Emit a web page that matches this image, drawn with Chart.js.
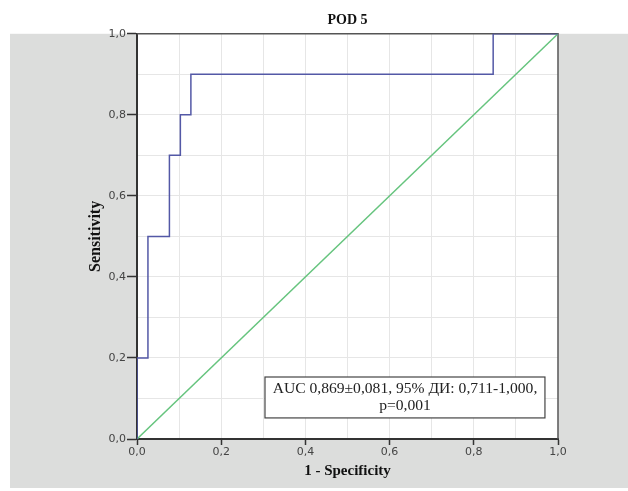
<!DOCTYPE html>
<html>
<head>
<meta charset="utf-8">
<title>POD 5</title>
<script src="https://cdn.jsdelivr.net/npm/chart.js@4.4.7/dist/chart.umd.min.js"></script>
<style>
    html, body { margin: 0; padding: 0; background: #ffffff; }
    #wrap { width: 628px; height: 491px; }
</style>
</head>
<body>
<div id="wrap"><canvas id="roc"></canvas></div>
<script>

// ROC curve points (1 - specificity, sensitivity)
const rocX = [0, 0, 0.026, 0.026, 0.077, 0.077, 0.103, 0.103, 0.128, 0.128, 0.846, 0.846, 1];
const rocY = [0, 0.2, 0.2, 0.5, 0.5, 0.7, 0.7, 0.8, 0.8, 0.9, 0.9, 1, 1];

// Reference line
const refX = [0, 1];
const refY = [0, 1];

const chartTitle = 'POD 5';
const xTitle = '1 - Specificity';
const yTitle = 'Sensitivity';
const noteLines = ['AUC 0,869\u00b10,081, 95% \u0414\u0418: 0,711-1,000,', 'p=0,001'];

function toPoints(xs, ys) {
    return xs.map(function (x, i) { return { x: x, y: ys[i] }; });
}

// Tick label with a comma, shown on every second grid line only
function tickLabel(value) {
    var n = Math.round(value * 10);
    if (n % 2 !== 0) {
        return '';
    }
    return (n / 10).toFixed(1).replace('.', ',');
}

function tickMarkColor(ctx) {
    var n = Math.round(ctx.tick.value * 10);
    return (n % 2 === 0) ? '#333333' : 'rgba(0,0,0,0)';
}

// Gray panel behind the plot, white plot area and thin frame
const panelPlugin = {
    id: 'panel',
    beforeDraw: function (chart) {
        const ctx = chart.ctx;
        const a = chart.chartArea;
        ctx.save();
        ctx.fillStyle = '#dcdddc';
        ctx.fillRect(10, a.top, chart.width - 10, 488 - a.top);
        ctx.fillStyle = '#ffffff';
        ctx.fillRect(a.left, a.top, a.right - a.left, a.bottom - a.top);
        ctx.restore();
    },
    beforeDatasetsDraw: function (chart) {
        const ctx = chart.ctx;
        const a = chart.chartArea;
        ctx.save();
        ctx.strokeStyle = '#555555';
        ctx.lineWidth = 1.5;
        ctx.beginPath();
        ctx.moveTo(a.left, a.top);
        ctx.lineTo(a.right, a.top);
        ctx.lineTo(a.right, a.bottom);
        ctx.stroke();
        ctx.restore();
    }
};

// Text box with the AUC result
const notePlugin = {
    id: 'note',
    afterDatasetsDraw: function (chart, args, opts) {
        const ctx = chart.ctx;
        const xs = chart.scales.x;
        const ys = chart.scales.y;
        const x0 = xs.getPixelForValue(opts.x0);
        const x1 = xs.getPixelForValue(opts.x1);
        const y0 = ys.getPixelForValue(opts.y0);
        const y1 = ys.getPixelForValue(opts.y1);
        ctx.save();
        ctx.fillStyle = '#ffffff';
        ctx.fillRect(x0, y0, x1 - x0, y1 - y0);
        ctx.strokeStyle = '#444444';
        ctx.lineWidth = 1.2;
        ctx.strokeRect(x0, y0, x1 - x0, y1 - y0);
        ctx.fillStyle = '#222222';
        ctx.font = '15.6px "Liberation Serif", "Times New Roman", serif';
        ctx.textAlign = 'center';
        ctx.textBaseline = 'middle';
        const cx = (x0 + x1) / 2;
        const cy = (y0 + y1) / 2;
        const lh = 17;
        noteLines.forEach(function (line, i) {
            ctx.fillText(line, cx, cy + (i - (noteLines.length - 1) / 2) * lh);
        });
        ctx.restore();
    }
};

const serifBold = { family: '"Liberation Serif", "Times New Roman", serif', size: 15, weight: 'bold' };
const tickFont = { family: '"DejaVu Sans", sans-serif', size: 11 };

const chart = new Chart(document.getElementById('roc'), {
    type: 'scatter',
    data: {
        datasets: [{
            label: 'ROC',
            data: toPoints(rocX, rocY),
            showLine: true,
            borderColor: '#5358a6',
            borderWidth: 1.5,
            pointRadius: 0,
            fill: false,
            order: 1
        }, {
            label: 'Reference',
            data: toPoints(refX, refY),
            showLine: true,
            borderColor: '#66c47e',
            borderWidth: 1.5,
            pointRadius: 0,
            fill: false,
            order: 2
        }]
    },
    options: {
        responsive: true,
        maintainAspectRatio: false,
        animation: false,
        layout: {
            padding: { top: 0, right: 70, bottom: 10, left: 84 }
        },
        plugins: {
            legend: { display: false },
            tooltip: { enabled: false },
            title: {
                display: true,
                fullSize: false,
                text: chartTitle,
                color: '#111111',
                font: { family: '"Liberation Serif", "Times New Roman", serif', size: 14, weight: 'bold' },
                padding: { top: 12, bottom: 5 }
            },
            note: { x0: 0.304, x1: 0.969, y0: 0.153, y1: 0.052 }
        },
        scales: {
            x: {
                type: 'linear',
                min: 0,
                max: 1,
                afterFit: function (scale) { scale.height = 42; },
                ticks: {
                    stepSize: 0.1,
                    autoSkip: false,
                    maxRotation: 0,
                    color: '#444444',
                    font: tickFont,
                    padding: 1,
                    callback: tickLabel
                },
                grid: {
                    color: '#e6e6e6',
                    lineWidth: 1,
                    tickLength: 6,
                    tickColor: tickMarkColor,
                    tickWidth: 1.5
                },
                border: { color: '#333333', width: 2 },
                title: {
                    display: true,
                    text: xTitle,
                    color: '#111111',
                    font: serifBold,
                    padding: { top: 0, bottom: 1 }
                }
            },
            y: {
                type: 'linear',
                min: 0,
                max: 1,
                afterFit: function (scale) { scale.width = 53; },
                ticks: {
                    stepSize: 0.1,
                    autoSkip: false,
                    color: '#444444',
                    font: tickFont,
                    padding: 1,
                    callback: tickLabel
                },
                grid: {
                    color: '#e6e6e6',
                    lineWidth: 1,
                    tickLength: 10,
                    tickColor: tickMarkColor,
                    tickWidth: 1.5
                },
                border: { color: '#333333', width: 2 },
                title: {
                    display: true,
                    text: yTitle,
                    color: '#111111',
                    font: { family: '"Liberation Serif", "Times New Roman", serif', size: 16, weight: 'bold' },
                    padding: { top: 2, bottom: 0 }
                }
            }
        }
    },
    plugins: [panelPlugin, notePlugin]
});
</script>
</body>
</html>
